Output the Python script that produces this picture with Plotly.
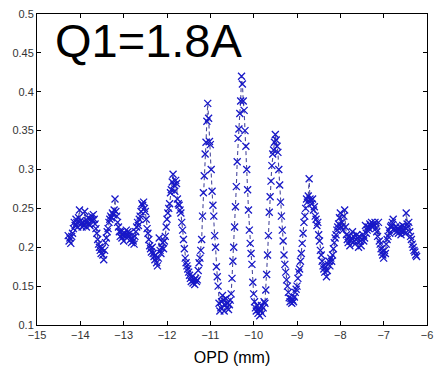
import plotly.graph_objects as go

opd_mm = [
    -14.28, -14.26, -14.24, -14.22, -14.20, -14.18, -14.16, -14.14, -14.12, -14.10,
    -14.08, -14.06, -14.04, -14.02, -14.00, -13.98, -13.96, -13.94, -13.92, -13.90,
    -13.88, -13.86, -13.84, -13.82, -13.80, -13.78, -13.76, -13.74, -13.72, -13.70,
    -13.68, -13.66, -13.64, -13.62, -13.60, -13.58, -13.56, -13.54, -13.52, -13.50,
    -13.48, -13.46, -13.44, -13.42, -13.40, -13.38, -13.36, -13.34, -13.32, -13.30,
    -13.28, -13.26, -13.24, -13.22, -13.20, -13.18, -13.16, -13.14, -13.12, -13.10,
    -13.08, -13.06, -13.04, -13.02, -13.00, -12.98, -12.96, -12.94, -12.92, -12.90,
    -12.88, -12.86, -12.84, -12.82, -12.80, -12.78, -12.76, -12.74, -12.72, -12.70,
    -12.68, -12.66, -12.64, -12.62, -12.60, -12.58, -12.56, -12.54, -12.52, -12.50,
    -12.48, -12.46, -12.44, -12.42, -12.40, -12.38, -12.36, -12.34, -12.32, -12.30,
    -12.28, -12.26, -12.24, -12.22, -12.20, -12.18, -12.16, -12.14, -12.12, -12.10,
    -12.08, -12.06, -12.04, -12.02, -12.00, -11.98, -11.96, -11.94, -11.92, -11.90,
    -11.88, -11.86, -11.84, -11.82, -11.80, -11.78, -11.76, -11.74, -11.72, -11.70,
    -11.68, -11.66, -11.64, -11.62, -11.60, -11.58, -11.56, -11.54, -11.52, -11.50,
    -11.48, -11.46, -11.44, -11.42, -11.40, -11.38, -11.36, -11.34, -11.32, -11.30,
    -11.28, -11.26, -11.24, -11.22, -11.20, -11.18, -11.16, -11.14, -11.12, -11.10,
    -11.08, -11.06, -11.04, -11.02, -11.00, -10.98, -10.96, -10.94, -10.92, -10.90,
    -10.88, -10.86, -10.84, -10.82, -10.80, -10.78, -10.76, -10.74, -10.72, -10.70,
    -10.68, -10.66, -10.64, -10.62, -10.60, -10.58, -10.56, -10.54, -10.52, -10.50,
    -10.48, -10.46, -10.44, -10.42, -10.40, -10.38, -10.36, -10.34, -10.32, -10.30,
    -10.28, -10.26, -10.24, -10.22, -10.20, -10.18, -10.16, -10.14, -10.12, -10.10,
    -10.08, -10.06, -10.04, -10.02, -10.00, -9.98, -9.96, -9.94, -9.92, -9.90,
    -9.88, -9.86, -9.84, -9.82, -9.80, -9.78, -9.76, -9.74, -9.72, -9.70,
    -9.68, -9.66, -9.64, -9.62, -9.60, -9.58, -9.56, -9.54, -9.52, -9.50,
    -9.48, -9.46, -9.44, -9.42, -9.40, -9.38, -9.36, -9.34, -9.32, -9.30,
    -9.28, -9.26, -9.24, -9.22, -9.20, -9.18, -9.16, -9.14, -9.12, -9.10,
    -9.08, -9.06, -9.04, -9.02, -9.00, -8.98, -8.96, -8.94, -8.92, -8.90,
    -8.88, -8.86, -8.84, -8.82, -8.80, -8.78, -8.76, -8.74, -8.72, -8.70,
    -8.68, -8.66, -8.64, -8.62, -8.60, -8.58, -8.56, -8.54, -8.52, -8.50,
    -8.48, -8.46, -8.44, -8.42, -8.40, -8.38, -8.36, -8.34, -8.32, -8.30,
    -8.28, -8.26, -8.24, -8.22, -8.20, -8.18, -8.16, -8.14, -8.12, -8.10,
    -8.08, -8.06, -8.04, -8.02, -8.00, -7.98, -7.96, -7.94, -7.92, -7.90,
    -7.88, -7.86, -7.84, -7.82, -7.80, -7.78, -7.76, -7.74, -7.72, -7.70,
    -7.68, -7.66, -7.64, -7.62, -7.60, -7.58, -7.56, -7.54, -7.52, -7.50,
    -7.48, -7.46, -7.44, -7.42, -7.40, -7.38, -7.36, -7.34, -7.32, -7.30,
    -7.28, -7.26, -7.24, -7.22, -7.20, -7.18, -7.16, -7.14, -7.12, -7.10,
    -7.08, -7.06, -7.04, -7.02, -7.00, -6.98, -6.96, -6.94, -6.92, -6.90,
    -6.88, -6.86, -6.84, -6.82, -6.80, -6.78, -6.76, -6.74, -6.72, -6.70,
    -6.68, -6.66, -6.64, -6.62, -6.60, -6.58, -6.56, -6.54, -6.52, -6.50,
    -6.48, -6.46, -6.44, -6.42, -6.40, -6.38, -6.36, -6.34, -6.32, -6.30,
    -6.28, -6.26, -6.24,
]

signal = [
    0.215, 0.208, 0.212, 0.205, 0.214, 0.218, 0.224, 0.232, 0.228, 0.236,
    0.232, 0.226, 0.238, 0.248, 0.234, 0.230, 0.226, 0.232, 0.228, 0.246,
    0.232, 0.226, 0.234, 0.238, 0.230, 0.228, 0.236, 0.240, 0.235, 0.242,
    0.236, 0.230, 0.224, 0.218, 0.210, 0.204, 0.200, 0.196, 0.192, 0.198,
    0.190, 0.184, 0.196, 0.206, 0.212, 0.220, 0.224, 0.232, 0.236, 0.240,
    0.238, 0.244, 0.242, 0.248, 0.262, 0.246, 0.240, 0.232, 0.226, 0.220,
    0.214, 0.220, 0.212, 0.216, 0.208, 0.218, 0.214, 0.222, 0.216, 0.220,
    0.214, 0.218, 0.210, 0.206, 0.212, 0.208, 0.204, 0.214, 0.220, 0.226,
    0.232, 0.228, 0.236, 0.240, 0.246, 0.256, 0.254, 0.258, 0.250, 0.246,
    0.236, 0.224, 0.218, 0.210, 0.202, 0.198, 0.194, 0.200, 0.192, 0.188,
    0.184, 0.190, 0.180, 0.176, 0.186, 0.212, 0.196, 0.192, 0.200, 0.206,
    0.198, 0.208, 0.214, 0.226, 0.236, 0.244, 0.250, 0.256, 0.270, 0.274,
    0.284, 0.294, 0.280, 0.272, 0.286, 0.282, 0.262, 0.256, 0.254, 0.248,
    0.244, 0.232, 0.222, 0.210, 0.198, 0.186, 0.180, 0.176, 0.172, 0.168,
    0.164, 0.160, 0.156, 0.162, 0.154, 0.158, 0.152, 0.160, 0.156, 0.158,
    0.170, 0.180, 0.186, 0.196, 0.210, 0.240, 0.270, 0.292, 0.320, 0.335,
    0.362, 0.385, 0.366, 0.336, 0.332, 0.300, 0.272, 0.254, 0.240, 0.215,
    0.200, 0.175, 0.162, 0.150, 0.128, 0.118, 0.122, 0.130, 0.138, 0.132,
    0.118, 0.126, 0.134, 0.122, 0.128, 0.120, 0.126, 0.132, 0.140, 0.160,
    0.182, 0.200, 0.226, 0.252, 0.278, 0.310, 0.340, 0.352, 0.372, 0.388,
    0.420, 0.410, 0.388, 0.376, 0.350, 0.330, 0.300, 0.274, 0.248, 0.222,
    0.205, 0.192, 0.178, 0.155, 0.140, 0.130, 0.122, 0.118, 0.125, 0.115,
    0.120, 0.112, 0.118, 0.125, 0.115, 0.122, 0.130, 0.128, 0.145, 0.165,
    0.190, 0.215, 0.245, 0.265, 0.285, 0.305, 0.320, 0.325, 0.335, 0.345,
    0.338, 0.330, 0.322, 0.300, 0.280, 0.258, 0.240, 0.222, 0.208, 0.190,
    0.178, 0.168, 0.158, 0.150, 0.142, 0.135, 0.130, 0.134, 0.128, 0.132,
    0.130, 0.136, 0.142, 0.146, 0.150, 0.160, 0.168, 0.172, 0.182, 0.192,
    0.205, 0.218, 0.232, 0.240, 0.250, 0.262, 0.258, 0.266, 0.288, 0.262,
    0.260, 0.256, 0.262, 0.248, 0.252, 0.240, 0.236, 0.228, 0.232, 0.216,
    0.208, 0.196, 0.190, 0.182, 0.176, 0.172, 0.168, 0.175, 0.162, 0.170,
    0.178, 0.182, 0.176, 0.186, 0.182, 0.190, 0.198, 0.206, 0.212, 0.216,
    0.222, 0.226, 0.230, 0.238, 0.244, 0.226, 0.232, 0.222, 0.240, 0.248,
    0.226, 0.216, 0.210, 0.206, 0.214, 0.202, 0.208, 0.212, 0.220, 0.214,
    0.208, 0.204, 0.210, 0.216, 0.212, 0.200, 0.214, 0.208, 0.202, 0.210,
    0.216, 0.208, 0.212, 0.228, 0.218, 0.222, 0.226, 0.224, 0.230, 0.228,
    0.232, 0.226, 0.230, 0.228, 0.232, 0.224, 0.220, 0.214, 0.232, 0.208,
    0.204, 0.198, 0.194, 0.190, 0.186, 0.196, 0.192, 0.204, 0.210, 0.214,
    0.222, 0.218, 0.226, 0.228, 0.232, 0.236, 0.224, 0.222, 0.226, 0.220,
    0.224, 0.218, 0.222, 0.226, 0.216, 0.220, 0.228, 0.222, 0.226, 0.218,
    0.244, 0.230, 0.226, 0.232, 0.220, 0.214, 0.210, 0.204, 0.200, 0.196,
    0.194, 0.190, 0.188,
]

x_ticks = [-15, -14, -13, -12, -11, -10, -9, -8, -7, -6]
y_ticks = [0.1, 0.15, 0.2, 0.25, 0.3, 0.35, 0.4, 0.45, 0.5]
y_tick_labels = ["0.1", "0.15", "0.2", "0.25", "0.3", "0.35", "0.4", "0.45", "0.5"]
label_text = "Q1=1.8A"
x_title = "OPD (mm)"

fig = go.Figure()
fig.add_trace(go.Scatter(
    x=opd_mm, y=signal, mode="lines+markers",
    line=dict(color="#4a4a9e", width=1.1, dash="4px,3px"),
    marker=dict(symbol="x-thin", size=7, color="#1818c8",
                line=dict(width=1.3, color="#1818c8")),
    showlegend=False,
))

axis_common = dict(
    showline=True, linecolor="black", linewidth=1, mirror="ticks",
    ticks="inside", ticklen=4, tickcolor="black", showgrid=False, zeroline=False,
    tickfont=dict(family="Arial, Liberation Sans", size=11, color="#333333"),
)

fig.update_layout(
    width=434, height=367,
    margin=dict(l=37, r=1, t=14, b=42),
    paper_bgcolor="white", plot_bgcolor="white",
    xaxis=dict(range=[-15, -6], tickvals=x_ticks, ticklabeloverflow="allow",
               title=dict(text=x_title, font=dict(family="Arial, Liberation Sans", size=16, color="black"), standoff=11),
               **axis_common),
    yaxis=dict(range=[0.1, 0.5], tickvals=y_ticks, ticktext=y_tick_labels, **axis_common),
    annotations=[dict(
        text=label_text, xref="paper", yref="paper", x=(53 - 37) / 396, y=0.915,
        xanchor="left", yanchor="middle", showarrow=False,
        font=dict(family="Arial, Liberation Sans", size=47, color="black"),
    )],
)

fig.write_html("out.html")
